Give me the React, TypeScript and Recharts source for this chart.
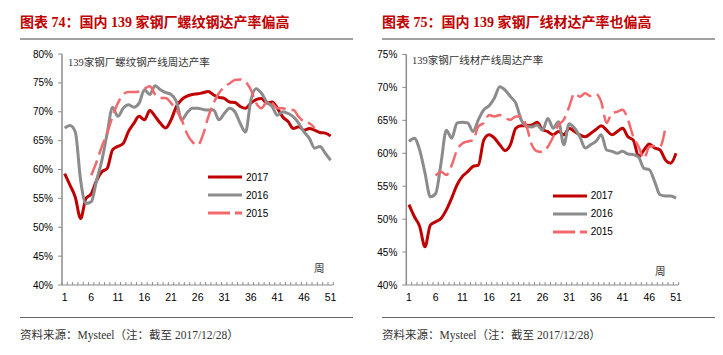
import { Legend, Line, LineChart, XAxis, YAxis } from "recharts";

// weekly capacity utilisation (%)
const weeks = [
  1, 2, 3, 4, 5, 6, 7, 8, 9, 10, 11, 12, 13, 14, 15, 16, 17, 18, 19, 20, 21, 22, 23, 24, 25, 26,
  27, 28, 29, 30, 31, 32, 33, 34, 35, 36, 37, 38, 39, 40, 41, 42, 43, 44, 45, 46, 47, 48, 49, 50, 51,
];
const weekLabels = [1, 6, 11, 16, 21, 26, 31, 36, 41, 46, 51];
const rebarTicks = [40, 45, 50, 55, 60, 65, 70, 75, 80];
const wireTicks = [40, 45, 50, 55, 60, 65, 70, 75];

const rebar2017 = [
  59.3, 57.3, 55.2, 51.5, 55, 55.8, 58.1, 59.6, 60.2, 63.4,
  64, 64.5, 66.6, 68, 69.2, 68.6, 70.2, 69.2, 68, 67.2,
  68.6, 70.9, 72.1, 72.7, 73, 73.1, 73.3, 73.5, 72.9, 72.5,
  72.3, 71.7, 71.6, 70.9, 70.6, 71.5, 72.1, 72.3, 71.5, 71.7,
  70.6, 69.1, 68.3, 67.1, 67.4, 66.8, 67.1, 66.8, 66.4, 66.3, 65.8,
];
const rebar2016 = [
  67.2, 67.6, 66.5, 58.1, 54.1, 54.4, 58.1, 61.6, 66.3, 70.8,
  69.2, 70.6, 71.2, 70.8, 71.5, 73.8, 73, 74.5, 73.8, 73.3,
  73, 71.8, 68.6, 69.8, 70.6, 70.6, 70.4, 70.3, 70.3, 68.6,
  69.7, 70.6, 70, 68, 66.5, 72, 74, 73.2, 71.7, 70.9,
  69.4, 70, 69.7, 69.1, 68, 66.5, 65.4, 63.7, 64, 62.8, 61.6,
];
const rebar2015 = [
  null, null, null, null, null, 59, 61.3, 64, 66.3, 69.2,
  71.5, 73, 73.4, 73.4, 73.5, 74, 74.4, 73, 72.4, 72.4,
  71.5, 70.3, 68.6, 66.2, 64.8, 64.2, 66, 69.1, 71.5, 73.2,
  74.3, 74.9, 75.5, 75.6, 75.2, 73.8, 71.5, 70.6, 71.7, 71.5,
  70.6, 70.6, 70.3, 70.3, 69.1, 68.3, 68, 67.2, null, null, null,
];

const wire2017 = [
  52.2, 50.4, 48.9, 45.8, 49.1, 49.6, 50.1, 51.4, 53.2, 55.2,
  56.5, 57.2, 58, 58.2, 62, 62.8, 62.3, 61.3, 60.4, 61.3,
  63.8, 64.2, 64.2, 64.3, 64.7, 63.6, 63.3, 62.8, 63.3, 62.8,
  63.8, 63.3, 62.8, 62.5, 63, 63.6, 64.2, 63.5, 62.8, 63.3,
  63.8, 62.5, 62, 59.5, 60.5, 61.4, 60.8, 60.5, 59, 58.5, 60,
];
const wire2016 = [
  61.8, 62.3, 60.5, 57, 53.4, 53.9, 58.5, 63.5, 62.3, 64.6,
  64.7, 64.6, 63.3, 65.1, 66.6, 67.2, 68.4, 70.1, 69.6, 68.6,
  67.6, 65.1, 64.1, 64, 64.3, 63.5, 65.3, 63.8, 64.8, 61.3,
  64.5, 63.8, 62.5, 60.8, 61.3, 61.8, 62.8, 60.5, 60.3, 60,
  60.3, 59.9, 59.8, 59.4, 57.7, 57.5, 55.7, 53.7, 53.5, 53.5, 53.2,
];
const wire2015 = [
  null, null, null, null, null, 56.6, 57.2, 56.7, 58.2, 60.5,
  61.5, 61.8, 62, 64.1, 64.6, 65.8, 65.6, 65.8, 65.3, 65.1,
  65.6, 65.6, 64.1, 61.3, 60.3, 60.2, 61, 62.5, 64.3, 65.1,
  67.1, 69.1, 68.6, 69.1, 68.7, 69, 67.8, 64.6, 66.1, 66.3,
  66.6, 65.1, 62.5, 61, 59.2, 61, 61.1, 61, 63.8, null, null,
];

const RED = "#C00000";
const GRAY = "#8C8C8C";
const PINK = "#F2686C";
const AXIS = "#8C8C8C";
const SANS = "'Liberation Sans', Arial, sans-serif";
const CJK = "'Liberation Serif', 'Noto Sans CJK SC', serif";

const legendItems = [
  { name: "2017", color: RED, dash: undefined },
  { name: "2016", color: GRAY, dash: undefined },
  { name: "2015", color: PINK, dash: "22 5" },
];

function LegendBox() {
  return (
    <div style={{ fontFamily: SANS, fontSize: 10, color: "#000" }}>
      {legendItems.map((it) => (
        <div key={it.name} style={{ display: "flex", alignItems: "center", height: 18 }}>
          <svg width={38} height={6}>
            <line x1={0} x2={34} y1={3} y2={3} stroke={it.color} strokeWidth={3} strokeDasharray={it.dash} />
          </svg>
          <span>{it.name}</span>
        </div>
      ))}
    </div>
  );
}

function WeekTick({ x, y, payload, step }: any) {
  const w = payload.value;
  return (
    <g>
      <line x1={x - step / 2} x2={x - step / 2} y1={y} y2={y - 3} stroke={AXIS} />
      {w === 51 && <line x1={x + step / 2} x2={x + step / 2} y1={y} y2={y - 3} stroke={AXIS} />}
      {weekLabels.includes(w) && (
        <text x={x} y={y + 16} textAnchor="middle" fontSize={10.5} fontFamily={SANS} fill="#000">
          {w}
        </text>
      )}
    </g>
  );
}

interface PanelProps {
  left: number;
  title: string;
  subtitle: string;
  s2017: (number | null)[];
  s2016: (number | null)[];
  s2015: (number | null)[];
  yTicks: number[];
  margin: { top: number; left: number; right: number; bottom: number };
  yWidth: number;
  legendAt: { left: number; top: number };
  subAt: { left: number; top: number };
  weekAt: { left: number; top: number };
}

function Panel(p: PanelProps) {
  const data = weeks.map((w, i) => ({ week: w, y2017: p.s2017[i], y2016: p.s2016[i], y2015: p.s2015[i] }));
  const width = 361;
  const step = (width - p.margin.left - p.yWidth - p.margin.right) / 51;
  return (
    <div style={{ position: "absolute", left: p.left, top: 0, width, height: 355 }}>
      <div
        style={{
          position: "absolute", left: 20, top: 14, fontFamily: CJK, fontWeight: "bold",
          fontSize: 14, color: RED, whiteSpace: "pre", lineHeight: "18px",
        }}
      >
        {p.title}
      </div>
      <div style={{ position: "absolute", left: 20, top: 37.5, width: 333, height: 2, background: "#A0A0A0" }} />
      <div style={{ position: "absolute", left: 20, top: 317, width: 333, height: 1, background: "#666" }} />
      <div
        style={{
          position: "absolute", left: 20, top: 327, fontFamily: CJK, fontSize: 11.5,
          color: "#333", whiteSpace: "nowrap", lineHeight: "16px",
        }}
      >
        资料来源：Mysteel（注：截至 2017/12/28）
      </div>
      <div style={{ position: "absolute", left: 0, top: 0 }}>
        <LineChart width={width} height={320} data={data} margin={p.margin}>
          <XAxis
            dataKey="week"
            type="number"
            domain={[0.5, 51.5]}
            ticks={weeks}
            interval={0}
            tickSize={0}
            tickMargin={0}
            tickLine={false}
            axisLine={{ stroke: AXIS }}
            height={30}
            tick={(t: any) => <WeekTick {...t} step={step} />}
          />
          <YAxis
            type="number"
            width={p.yWidth}
            domain={[p.yTicks[0], p.yTicks[p.yTicks.length - 1]]}
            ticks={p.yTicks}
            interval={0}
            tickSize={4}
            tickMargin={5}
            tickLine={{ stroke: AXIS }}
            axisLine={{ stroke: AXIS, strokeWidth: 1.5 }}
            tick={{ fontSize: 10, fontFamily: SANS, fill: "#000" }}
            tickFormatter={(v: number) => `${v}%`}
          />
          <Line type="monotone" dataKey="y2017" stroke={RED} strokeWidth={3} dot={false} isAnimationActive={false} />
          <Line type="monotone" dataKey="y2016" stroke={GRAY} strokeWidth={3} dot={false} isAnimationActive={false} />
          <Line
            type="monotone"
            dataKey="y2015"
            stroke={PINK}
            strokeWidth={2.5}
            strokeDasharray="16 6"
            dot={false}
            isAnimationActive={false}
          />
          <Legend
            layout="vertical"
            align="center"
            verticalAlign="middle"
            content={() => <LegendBox />}
            wrapperStyle={{ left: p.legendAt.left, top: p.legendAt.top, width: 80 }}
          />
        </LineChart>
      </div>
      <div
        style={{
          position: "absolute", left: p.subAt.left, top: p.subAt.top, fontFamily: CJK, fontSize: 10.5,
          color: "#333", whiteSpace: "nowrap", lineHeight: "14px",
        }}
      >
        {p.subtitle}
      </div>
      <div
        style={{
          position: "absolute", left: p.weekAt.left, top: p.weekAt.top, fontFamily: CJK, fontSize: 10.5,
          color: "#333", lineHeight: "14px",
        }}
      >
        周
      </div>
    </div>
  );
}

export default function App() {
  return (
    <div style={{ position: "absolute", left: 0, top: 0, width: 723, height: 355, background: "#fff", overflow: "hidden" }}>
      <Panel
        left={0}
        title="图表 74：国内 139 家钢厂螺纹钢达产率偏高"
        subtitle="139家钢厂螺纹钢产线周达产率"
        s2017={rebar2017}
        s2016={rebar2016}
        s2015={rebar2015}
        yTicks={rebarTicks}
        margin={{ top: 54, left: 12, right: 27.7, bottom: 5 }}
        yWidth={50}
        legendAt={{ left: 208, top: 168 }}
        subAt={{ left: 68, top: 55.5 }}
        weekAt={{ left: 314, top: 262 }}
      />
      <Panel
        left={362}
        title="图表 75：国内 139 家钢厂线材达产率也偏高"
        subtitle="139家钢厂线材产线周达产率"
        s2017={wire2017}
        s2016={wire2016}
        s2015={wire2015}
        yTicks={wireTicks}
        margin={{ top: 54.5, left: 4.3, right: 44.3, bottom: 5 }}
        yWidth={40}
        legendAt={{ left: 190.7, top: 186.7 }}
        subAt={{ left: 50, top: 53.5 }}
        weekAt={{ left: 293, top: 265 }}
      />
    </div>
  );
}
